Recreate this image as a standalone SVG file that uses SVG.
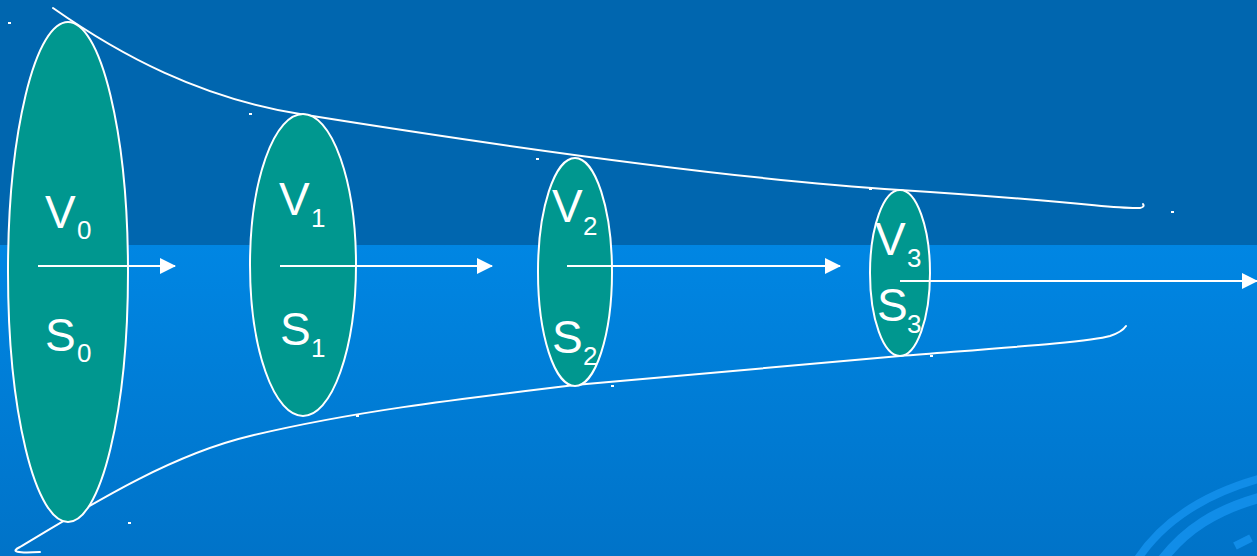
<svg xmlns="http://www.w3.org/2000/svg" width="1257" height="556" viewBox="0 0 1257 556">
<defs>
<linearGradient id="lower" x1="0" y1="0" x2="0" y2="1">
<stop offset="0" stop-color="#0086E3"/>
<stop offset="1" stop-color="#0073C8"/>
</linearGradient>
<marker id="ah" viewBox="0 0 16 16" refX="15" refY="8" markerWidth="16" markerHeight="16" markerUnits="userSpaceOnUse" orient="auto">
<path d="M0,0 L16,8 L0,16 Z" fill="#FFFFFF"/>
</marker>
<style>
.node{fill:#00978F;stroke:#FFFFFF;stroke-width:2}
.lbl{font-family:"Liberation Sans",Arial,sans-serif;fill:#FFFFFF;font-size:46px}
.sub{font-family:"Liberation Sans",Arial,sans-serif;fill:#FFFFFF;font-size:26px}
.conn{stroke:#FFFFFF;stroke-width:2;fill:none}
.wire{stroke:#FFFFFF;stroke-width:2;fill:none;stroke-linecap:round}
.swirl{stroke:#118DE8;fill:none}
.dot{fill:#FFFFFF}
</style>
</defs>
<rect x="0" y="0" width="1257" height="245" fill="#0066AF"/>
<rect x="0" y="245" width="1257" height="311" fill="url(#lower)"/>
<g id="swirl">
<path class="swirl" stroke-width="8" d="M1137,560 C1160,525 1200,495 1262,478"/>
<path class="swirl" stroke-width="10" d="M1162,560 C1185,530 1215,510 1262,497"/>
<path class="swirl" stroke-width="8" d="M1235,546 L1251,538"/>
</g>
<g id="dots">
<rect class="dot" x="8" y="22" width="3" height="2"/>
<rect class="dot" x="249" y="113" width="3" height="2"/>
<rect class="dot" x="536" y="158" width="3" height="2"/>
<rect class="dot" x="869" y="188" width="3" height="2"/>
<rect class="dot" x="1171" y="211" width="3" height="2"/>
<rect class="dot" x="356" y="415" width="3" height="2"/>
<rect class="dot" x="611" y="385" width="3" height="2"/>
<rect class="dot" x="930" y="355" width="3" height="2"/>
<rect class="dot" x="128" y="522" width="3" height="2"/>
</g>
<g id="envelope">
<path class="wire" d="M53,8 C120,55 200,98 300,114 S700,177 900,190 S1110,209 1140,208 Q1145,207 1143,204"/>
<path class="wire" d="M40,552 Q5,554 20,547 C90,505 170,455 250,436 C350,412 450,400 575,385 L900,356 C1000,348 1090,342 1110,336 Q1122,332 1126,326"/>
</g>
<g id="node-0">
<ellipse class="node" cx="68" cy="272" rx="60" ry="250"/>
<text class="lbl" x="45" y="228">V</text><text class="sub" x="77" y="239">0</text>
<text class="lbl" x="45" y="351">S</text><text class="sub" x="77" y="362">0</text>
</g>
<g id="node-1">
<ellipse class="node" cx="303" cy="265" rx="53" ry="151"/>
<text class="lbl" x="279" y="215">V</text><text class="sub" x="311" y="227">1</text>
<text class="lbl" x="280" y="345">S</text><text class="sub" x="311" y="357">1</text>
</g>
<g id="node-2">
<ellipse class="node" cx="575" cy="272" rx="37" ry="114"/>
<text class="lbl" x="552" y="222">V</text><text class="sub" x="583" y="235">2</text>
<text class="lbl" x="552" y="353">S</text><text class="sub" x="583" y="365">2</text>
</g>
<g id="node-3">
<ellipse class="node" cx="900" cy="273" rx="30" ry="83"/>
<text class="lbl" x="875" y="255">V</text><text class="sub" x="907" y="267">3</text>
<text class="lbl" x="877" y="321">S</text><text class="sub" x="907" y="333">3</text>
</g>
<g id="connectors">
<line class="conn" x1="38" y1="266" x2="175" y2="266" marker-end="url(#ah)"/>
<line class="conn" x1="280" y1="266" x2="492" y2="266" marker-end="url(#ah)"/>
<line class="conn" x1="567" y1="266" x2="840" y2="266" marker-end="url(#ah)"/>
<line class="conn" x1="900" y1="281" x2="1257" y2="281" marker-end="url(#ah)"/>
</g>
</svg>
